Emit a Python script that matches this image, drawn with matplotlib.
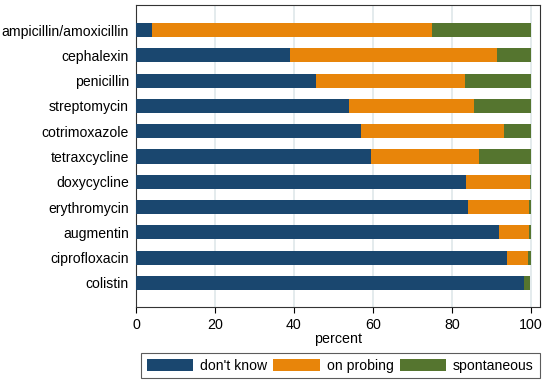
import numpy as np
import matplotlib.pyplot as plt

plt.rcParams['font.family'] = ['Liberation Sans', 'DejaVu Sans']

##########  DATA  ##########
drugs = ["ampicillin/amoxicillin", "cephalexin", "penicillin", "streptomycin",
         "cotrimoxazole", "tetraxcycline", "doxycycline", "erythromycin",
         "augmentin", "ciprofloxacin", "colistin"]
dont_know = [4.0, 38.9, 45.5, 54.0, 57.0, 59.6, 83.6, 84.0, 92.0, 94.0, 98.3]
on_probing = [71.0, 52.5, 37.8, 31.6, 36.2, 27.3, 16.1, 15.5, 7.5, 5.3, 0.0]
spontaneous = [25.0, 8.6, 16.7, 14.4, 6.8, 13.1, 0.3, 0.5, 0.5, 0.7, 1.5]

labels = ["don't know", "on probing", "spontaneous"]
colors = ["#1a476f", "#e8850a", "#55752f"]

### Plot ###
fig = plt.figure(figsize=(5.5, 3.87), dpi=100)
ax = fig.add_axes([0.2473, 0.2067, 0.7345, 0.7803])

y = np.arange(len(drugs))[::-1]
left = np.zeros(len(drugs))
for vals, lab, col in zip([dont_know, on_probing, spontaneous], labels, colors):
    ax.barh(y, vals, left=left, height=0.56, color=col, label=lab, zorder=3)
    left = left + np.array(vals)

ax.set_xlim(0, 102.3)
ax.set_ylim(-0.95, 10.99)
ax.set_xticks([0, 20, 40, 60, 80, 100])
ax.set_yticks(y)
ax.set_yticklabels(drugs)
ax.tick_params(axis="x", labelsize=10.3, length=4, width=0.8, color="black", pad=4)
ax.tick_params(axis="y", labelsize=10.1, length=0, pad=5)
ax.grid(axis="x", color="#dfe8ea", linewidth=1.2, zorder=0)
for s in ax.spines.values():
    s.set_color("#333333")
    s.set_linewidth(0.8)
ax.set_xlabel("percent", fontsize=10.3, labelpad=0)

leg = ax.legend(loc="upper left", bbox_to_anchor=(141 / 550, 1 - 353 / 387),
                bbox_transform=fig.transFigure, ncol=3,
                fontsize=10.1, frameon=True, fancybox=False, edgecolor="#333333",
                handlelength=3.3, handleheight=1.0, columnspacing=0.45,
                handletextpad=0.5, borderpad=0.4, borderaxespad=0)
leg.get_frame().set_linewidth(0.8)

fig.savefig("out.png", dpi=100)
